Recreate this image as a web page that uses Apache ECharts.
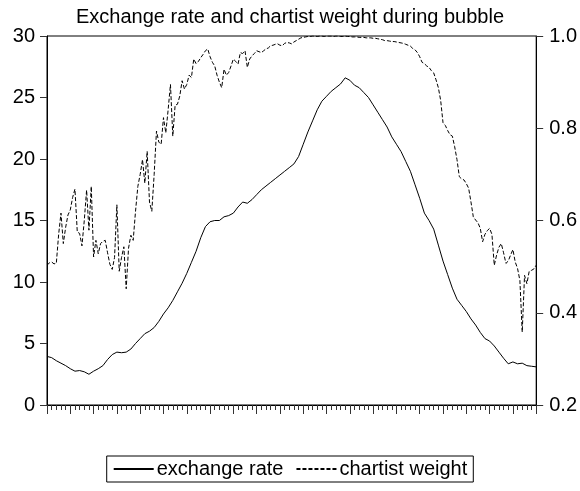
<!DOCTYPE html>
<html>
<head>
<meta charset="utf-8">
<script src="https://cdn.jsdelivr.net/npm/echarts@6/dist/echarts.min.js"></script>
<style>
html,body{margin:0;padding:0;background:#fff;}
#chart{width:580px;height:491px;}
</style>
</head>
<body>
<div id="chart"></div>
<script>
// One value per x tick (106 observations on a 0..105 axis)
const exchangeRate = [
  3.95, 3.85, 3.6, 3.4, 3.2, 2.95, 2.75, 2.8, 2.7, 2.5,
  2.75, 2.95, 3.2, 3.7, 4.1, 4.3, 4.25, 4.3, 4.55, 5.0,
  5.4, 5.8, 6.0, 6.3, 6.8, 7.4, 7.9, 8.5, 9.2, 9.9,
  10.7, 11.6, 12.5, 13.6, 14.5, 14.9, 15.0, 15.0, 15.3, 15.4,
  15.6, 16.1, 16.5, 16.4, 16.7, 17.1, 17.5, 17.8, 18.1, 18.4,
  18.7, 19.0, 19.3, 19.6, 20.2, 21.2, 22.2, 23.1, 24.0, 24.7,
  25.1, 25.5, 25.8, 26.1, 26.6, 26.4, 26.0, 25.8, 25.4, 25.0,
  24.4, 23.8, 23.2, 22.6, 21.8, 21.2, 20.6, 19.8, 19.0, 17.9,
  16.8, 15.6, 15.0, 14.3, 13.0, 11.7, 10.6, 9.5, 8.6, 8.1,
  7.6, 7.0, 6.5, 5.9, 5.4, 5.2, 4.8, 4.3, 3.8, 3.35,
  3.5, 3.35, 3.4, 3.2, 3.15, 3.1
];

// Two values per x tick (211 observations, half-tick spacing)
const chartistWeight = [
  0.503, 0.508, 0.510, 0.506, 0.507, 0.570, 0.616, 0.550, 0.585, 0.612,
  0.623, 0.650, 0.668, 0.575, 0.572, 0.545, 0.600, 0.666, 0.579, 0.674,
  0.521, 0.557, 0.528, 0.550, 0.555, 0.557, 0.530, 0.505, 0.494, 0.520,
  0.634, 0.490, 0.520, 0.543, 0.452, 0.540, 0.568, 0.557, 0.620, 0.674,
  0.700, 0.732, 0.681, 0.750, 0.640, 0.620, 0.700, 0.794, 0.770, 0.765,
  0.823, 0.790, 0.840, 0.895, 0.783, 0.850, 0.852, 0.870, 0.903, 0.885,
  0.895, 0.915, 0.910, 0.950, 0.940, 0.945, 0.953, 0.960, 0.968, 0.972,
  0.955, 0.943, 0.935, 0.915, 0.900, 0.888, 0.928, 0.915, 0.921, 0.935,
  0.950, 0.945, 0.939, 0.964, 0.962, 0.968, 0.932, 0.950, 0.957, 0.962,
  0.968, 0.966, 0.964, 0.968, 0.972, 0.974, 0.979, 0.980, 0.982, 0.983,
  0.980, 0.979, 0.984, 0.986, 0.985, 0.983, 0.987, 0.990, 0.993, 0.996,
  0.997, 0.998, 0.999, 0.999, 1.000, 1.000, 0.999, 1.000, 1.000, 0.999,
  1.000, 1.000, 1.000, 0.999, 1.000, 1.000, 0.999, 0.999, 1.000, 0.999,
  0.999, 0.998, 0.998, 0.998, 0.997, 0.997, 0.997, 0.996, 0.996, 0.996,
  0.995, 0.995, 0.994, 0.993, 0.992, 0.990, 0.990, 0.989, 0.988, 0.988,
  0.987, 0.986, 0.985, 0.984, 0.982, 0.980, 0.978, 0.973, 0.970, 0.964,
  0.955, 0.943, 0.940, 0.935, 0.932, 0.925, 0.920, 0.905, 0.888, 0.860,
  0.812, 0.806, 0.795, 0.786, 0.783, 0.760, 0.732, 0.695, 0.690, 0.688,
  0.680, 0.670, 0.640, 0.608, 0.601, 0.595, 0.583, 0.554, 0.570, 0.578,
  0.583, 0.570, 0.503, 0.525, 0.542, 0.550, 0.530, 0.507, 0.512, 0.525,
  0.537, 0.510, 0.496, 0.470, 0.358, 0.481, 0.463, 0.490, 0.492, 0.495,
  0.503
];

const seriesNames = ['exchange rate', 'chartist weight'];
const titleText = 'Exchange rate and chartist weight during bubble';
const leftTicks = [0, 5, 10, 15, 20, 25, 30];
const rightTicks = [0.2, 0.4, 0.6, 0.8, 1.0];

const FONT = '"Liberation Sans", Arial, sans-serif';
const chart = echarts.init(document.getElementById('chart'), null, {renderer: 'canvas'});

const option = {
  animation: false,
  backgroundColor: '#fff',
  title: {
    text: titleText,
    left: 'center',
    top: 7,
    padding: 0,
    textStyle: {fontFamily: FONT, fontSize: 20, fontWeight: 'normal', color: '#000'}
  },
  legend: {
    data: seriesNames,
    bottom: 9,
    left: 'center',
    itemWidth: 40,
    itemHeight: 14,
    itemGap: 12,
    padding: [3, 6, 3, 6],
    borderColor: '#000',
    borderWidth: 1,
    itemStyle: {opacity: 0},
    textStyle: {fontFamily: FONT, fontSize: 20, color: '#000', padding: [0, 0, 0, -2]}
  },
  grid: {
    left: 47, right: 43, top: 36, bottom: 86,
    show: true, borderColor: '#000', borderWidth: 1, backgroundColor: 'transparent'
  },
  xAxis: {
    type: 'value',
    min: 0, max: exchangeRate.length - 1, interval: 5,
    axisLine: {show: true, onZero: false, lineStyle: {color: '#000', width: 1}},
    axisTick: {show: true, inside: false, length: 9, lineStyle: {color: '#333'}},
    minorTick: {show: true, splitNumber: 5, length: 5, lineStyle: {color: '#333'}},
    axisLabel: {show: false},
    splitLine: {show: false},
    minorSplitLine: {show: false}
  },
  yAxis: [
    {
      type: 'value', position: 'left',
      min: leftTicks[0], max: leftTicks[leftTicks.length - 1], interval: 5,
      axisLine: {show: true, onZero: false, lineStyle: {color: '#000'}},
      axisTick: {show: true, length: 7, lineStyle: {color: '#333'}},
      axisLabel: {fontFamily: FONT, fontSize: 20, color: '#000', margin: 12},
      splitLine: {show: false}
    },
    {
      type: 'value', position: 'right',
      min: rightTicks[0], max: rightTicks[rightTicks.length - 1], interval: 0.2,
      axisLine: {show: true, onZero: false, lineStyle: {color: '#000'}},
      axisTick: {show: true, length: 7, lineStyle: {color: '#333'}},
      axisLabel: {fontFamily: FONT, fontSize: 20, color: '#000', margin: 13,
        formatter: v => v.toFixed(1)},
      splitLine: {show: false}
    }
  ],
  series: [
    {
      name: seriesNames[0],
      type: 'line',
      yAxisIndex: 0,
      symbol: 'none',
      data: exchangeRate.map((v, i) => [i, v]),
      lineStyle: {color: '#000', width: 1, type: 'solid'},
      itemStyle: {color: '#000'}
    },
    {
      name: seriesNames[1],
      type: 'line',
      yAxisIndex: 1,
      symbol: 'none',
      data: chartistWeight.map((v, j) => [j / 2, v]),
      lineStyle: {color: '#000', width: 1, type: [4, 2]},
      itemStyle: {color: '#000'}
    }
  ]
};
chart.setOption(option);
</script>
</body>
</html>
